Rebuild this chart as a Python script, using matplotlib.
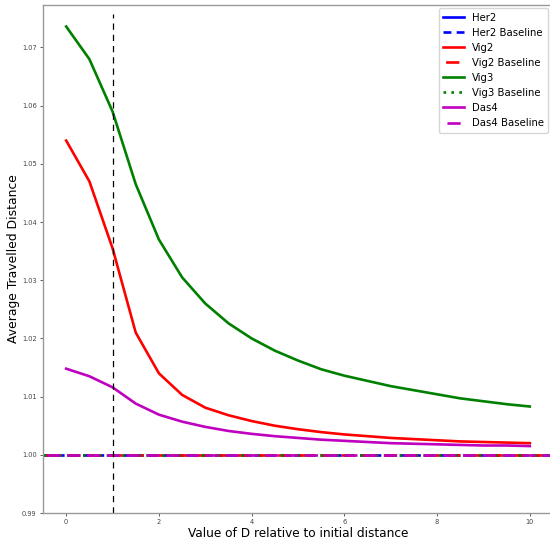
import matplotlib
matplotlib.use("Agg")
import matplotlib.pyplot as plt
import numpy as np

x_values = [0, 0.5, 1, 1.5, 2, 2.5, 3, 3.5, 4, 4.5, 5, 5.5, 6, 6.5, 7, 7.5, 8, 8.5, 9, 9.5, 10]
her2 = []
vig2 = [1.0540, 1.0470, 1.0355, 1.0210, 1.0140, 1.0103, 1.0081, 1.0068, 1.0058, 1.0050, 1.0044,
        1.0039, 1.0035, 1.0032, 1.0029, 1.0027, 1.0025, 1.0023, 1.0022, 1.0021, 1.0020]
vig3 = [1.0736, 1.0680, 1.0590, 1.0465, 1.0370, 1.0305, 1.0260, 1.0226, 1.0200, 1.0179, 1.0162,
        1.0147, 1.0136, 1.0127, 1.0118, 1.0111, 1.0104, 1.0097, 1.0092, 1.0087, 1.0083]
das4 = [1.0148, 1.0135, 1.0116, 1.0088, 1.0069, 1.0057, 1.0048, 1.0041, 1.0036, 1.0032, 1.0029,
        1.0026, 1.0024, 1.0022, 1.0020, 1.0019, 1.0018, 1.0017, 1.0016, 1.0016, 1.0015]
baseline = 1.0
d_marker = 1
xticks = [0, 2, 4, 6, 8, 10]
yticks = [0.99, 1.00, 1.01, 1.02, 1.03, 1.04, 1.05, 1.06, 1.07]

fig = plt.figure(figsize=(5.5, 5.44), dpi=100)
ax = fig.add_axes([43/550, 1 - 513/544, 510/550, 508/544])

lw = 1.9
ax.plot(x_values[:len(her2)], her2, color='b', lw=lw, label='Her2')
ax.axhline(baseline, color='b', lw=lw, ls=(0, (3, 2)), label='Her2 Baseline')
ax.plot(x_values, vig2, color='r', lw=lw, label='Vig2')
ax.axhline(baseline, color='r', lw=lw, ls=(7, (5, 3)), label='Vig2 Baseline')
ax.plot(x_values, vig3, color='g', lw=lw, label='Vig3')
ax.axhline(baseline, color='g', lw=lw, ls=(0, (1, 2)), label='Vig3 Baseline')
ax.plot(x_values, das4, color='m', lw=lw, label='Das4')
ax.axhline(baseline, color='m', lw=lw, ls=(6, (5, 2.5)), label='Das4 Baseline')
ax.vlines(d_marker, 0.99, 1.0758, colors='k', linestyles=(0, (5, 4)), lw=0.9)

ax.set_xlim(-0.5, 10.5)
ax.set_ylim(0.99, 1.0773)
ax.set_xticks(xticks)
ax.set_yticks(yticks)
ax.set_yticklabels([f"{v:.2f}" for v in yticks])
ax.tick_params(labelsize=4.8, length=2.5, width=0.6, colors='#444444', pad=2)
for s in ax.spines.values():
    s.set_color('#999999')
    s.set_linewidth(1.0)

ax.set_xlabel('Value of D relative to initial distance', fontsize=8.7, labelpad=1)
ax.set_ylabel('Average Travelled Distance', fontsize=8.9, labelpad=1.5)
ax.legend(loc='upper right', fontsize=7.3, handlelength=2.0, borderpad=0.45,
          labelspacing=0.5, handletextpad=0.8, bbox_to_anchor=(0.991, 0.994),
          borderaxespad=0)

fig.savefig('out.png', dpi=100)
